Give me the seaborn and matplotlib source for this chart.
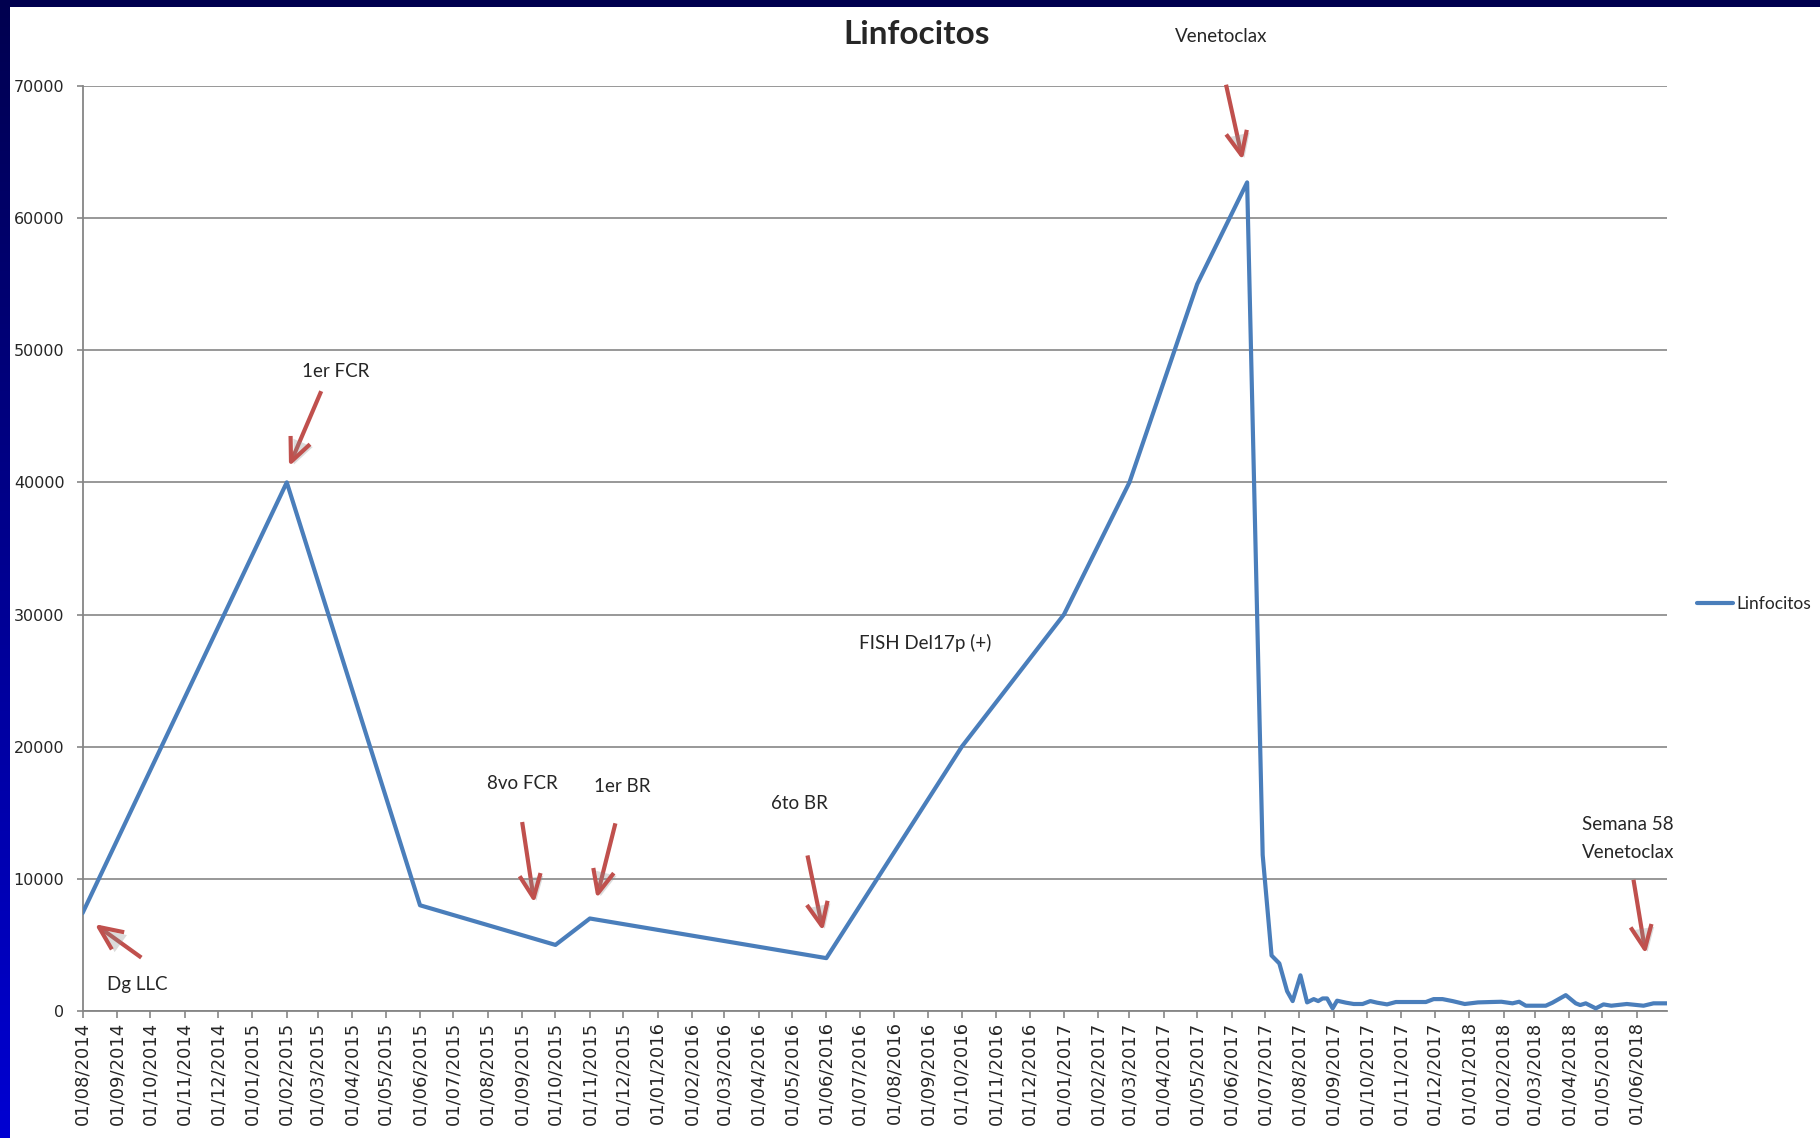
import numpy as np
import pandas as pd
import matplotlib
matplotlib.use("Agg")
import matplotlib.pyplot as plt
import matplotlib.dates as mdates
import matplotlib.patheffects as pe
from matplotlib.patches import Rectangle
from matplotlib.colors import LinearSegmentedColormap
import seaborn as sns

# ---- data -------------------------------------------------------------
fechas = [
    "2014-08-01", "2015-02-01", "2015-06-01", "2015-10-01", "2015-11-01",
    "2016-06-01", "2016-10-01", "2017-01-01", "2017-03-01", "2017-05-01",
    "2017-06-15", "2017-06-29", "2017-07-07", "2017-07-14", "2017-07-21",
    "2017-07-26", "2017-08-02", "2017-08-08", "2017-08-14", "2017-08-18",
    "2017-08-22", "2017-08-26", "2017-08-31", "2017-09-04", "2017-09-12",
    "2017-09-19", "2017-09-27", "2017-10-04", "2017-10-10", "2017-10-19",
    "2017-10-27", "2017-11-09", "2017-11-23", "2017-11-30", "2017-12-08",
    "2017-12-17", "2017-12-28", "2018-01-09", "2018-01-21", "2018-01-30",
    "2018-02-09", "2018-02-15", "2018-02-21", "2018-03-11", "2018-03-17",
    "2018-03-29", "2018-04-07", "2018-04-11", "2018-04-16", "2018-04-25",
    "2018-05-02", "2018-05-09", "2018-05-23", "2018-06-07", "2018-06-16",
    "2018-06-28",
]
linfocitos = [
    7400, 40000, 8000, 5000, 7000,
    4000, 20000, 30000, 40000, 55000,
    62700, 11800, 4200, 3600, 1500,
    750, 2700, 650, 900, 750,
    950, 950, 200, 780, 630,
    530, 530, 750, 630, 500,
    680, 680, 680, 900, 900,
    750, 530, 650, 680, 700,
    580, 700, 400, 400, 630,
    1200, 580, 450, 580, 200,
    500, 400, 530, 400, 580,
    580,
]

# event labels: (text, text position, arrow tail, arrow head) as (date, value)
eventos = [
    ("Dg LLC", ("2014-09-19", 2000), ("2014-09-23", 4040), ("2014-08-12", 6580)),
    ("1er FCR", ("2015-03-17", 48400), ("2015-03-04", 46900), ("2015-02-03", 41200)),
    ("8vo FCR", ("2015-09-01", 17200), ("2015-09-01", 14300), ("2015-09-12", 8170)),
    ("1er BR", ("2015-11-30", 17000), ("2015-11-24", 14200), ("2015-11-07", 8520)),
    ("6to BR", ("2016-05-08", 15700), ("2016-05-15", 11770), ("2016-05-29", 6050)),
    ("Venetoclax", ("2017-05-23", 73770), ("2017-05-27", 70090), ("2017-06-11", 64380)),
    ("Semana 58\nVenetoclax", ("2018-05-24", 13050), ("2018-05-29", 9930), ("2018-06-09", 4310)),
]
nota_fish = ("FISH Del17p (+)", ("2016-08-29", 27850))

y_ticks = [0, 10000, 20000, 30000, 40000, 50000, 60000, 70000]

df = pd.DataFrame({"fecha": pd.to_datetime(fechas), "Linfocitos": linfocitos})

# ---- style ------------------------------------------------------------
sns.set_style("white")
plt.rcParams["font.family"] = ["DejaVu Sans"]
ANN_FONT = ["Lato", "DejaVu Sans"]
GRID = "#868686"
LINE = "#4a7ebb"
ARROW = "#c0504d"

fig = plt.figure(figsize=(18.2, 11.38), dpi=100, facecolor="white")

# slide frame: dark band on top and a blue gradient on the left
fig.patches.append(Rectangle((0, 1 - 7 / 1138), 1, 7 / 1138, transform=fig.transFigure,
                             facecolor="#00004f", edgecolor="none", zorder=0))
gax = fig.add_axes([0, 0, 10 / 1820, 1])
grad = np.linspace(0, 1, 256).reshape(-1, 1)
cmap = LinearSegmentedColormap.from_list("frame", ["#00004f", "#0000d2"])
gax.imshow(grad, aspect="auto", cmap=cmap, extent=[0, 1, 0, 1], origin="upper")
gax.set_axis_off()

ax = fig.add_axes([82.5 / 1820, (1138 - 1011) / 1138, 1584.3 / 1820, 925.1 / 1138])

sns.lineplot(data=df, x="fecha", y="Linfocitos", ax=ax, color=LINE, linewidth=3,
             label="Linfocitos", sort=False, zorder=3)

# axes
ax.set_ylim(0, 70000)
ax.set_xlim(pd.Timestamp("2014-08-01"), pd.Timestamp("2018-06-28"))
ax.set_yticks(y_ticks)
ax.set_yticklabels([str(v) for v in y_ticks])
ax.xaxis.set_major_locator(mdates.MonthLocator())
ax.xaxis.set_major_formatter(mdates.DateFormatter("%d/%m/%Y"))
ax.set_xlabel("")
ax.set_ylabel("")
ax.grid(axis="y", color=GRID, linewidth=1.2, zorder=1)
ax.grid(axis="x", visible=False)
for s in ["top", "right"]:
    ax.spines[s].set_visible(False)
for s in ["left", "bottom"]:
    ax.spines[s].set_color(GRID)
    ax.spines[s].set_linewidth(1.3)
ax.tick_params(axis="x", direction="out", length=5, width=1.2, color=GRID,
               labelsize=13, rotation=90, pad=2.5, bottom=True)
ax.tick_params(axis="y", direction="out", length=4.5, width=1.2, color=GRID,
               labelsize=11.5, pad=8.5, left=True)
for lab in ax.get_xticklabels():
    lab.set_va("top")
    lab.set_ha("center")

# title
fig.text(917 / 1820, 1 - 35 / 1138, "Linfocitos", ha="center", va="center",
         fontsize=24, fontweight="bold", family=ANN_FONT)

# legend at the right
leg = ax.legend(loc="center left", bbox_to_anchor=(1697 / 1820, 1 - 603.6 / 1138),
                bbox_transform=fig.transFigure, frameon=False, borderpad=0,
                borderaxespad=0, handlelength=2.1, handletextpad=0.15,
                prop={"family": ANN_FONT, "size": 12.5})

# event annotations with arrows
def dnum(d):
    return mdates.date2num(pd.Timestamp(d))

shadow = [pe.SimplePatchShadow(offset=(2, -2), shadow_rgbFace="#8a8a8a", alpha=0.3),
          pe.Normal()]
for texto, (tx, ty), (ax0, ay0), (ax1, ay1) in eventos:
    ax.text(dnum(tx), ty, texto, ha="center", va="center", fontsize=13.5,
            family=ANN_FONT, linespacing=1.85, clip_on=False, zorder=5)
    an = ax.annotate("", xy=(dnum(ax1), ay1), xytext=(dnum(ax0), ay0),
                     annotation_clip=False, zorder=4,
                     arrowprops=dict(arrowstyle="->,head_length=0.85,head_width=0.38",
                                     color=ARROW, lw=3, mutation_scale=20,
                                     shrinkA=0, shrinkB=0, capstyle="butt"))
    an.arrow_patch.set_path_effects(shadow)

ax.text(dnum(nota_fish[1][0]), nota_fish[1][1], nota_fish[0], ha="center", va="center",
        fontsize=13.5, family=ANN_FONT, zorder=5)

fig.savefig("out.png", dpi=100, facecolor="white")
